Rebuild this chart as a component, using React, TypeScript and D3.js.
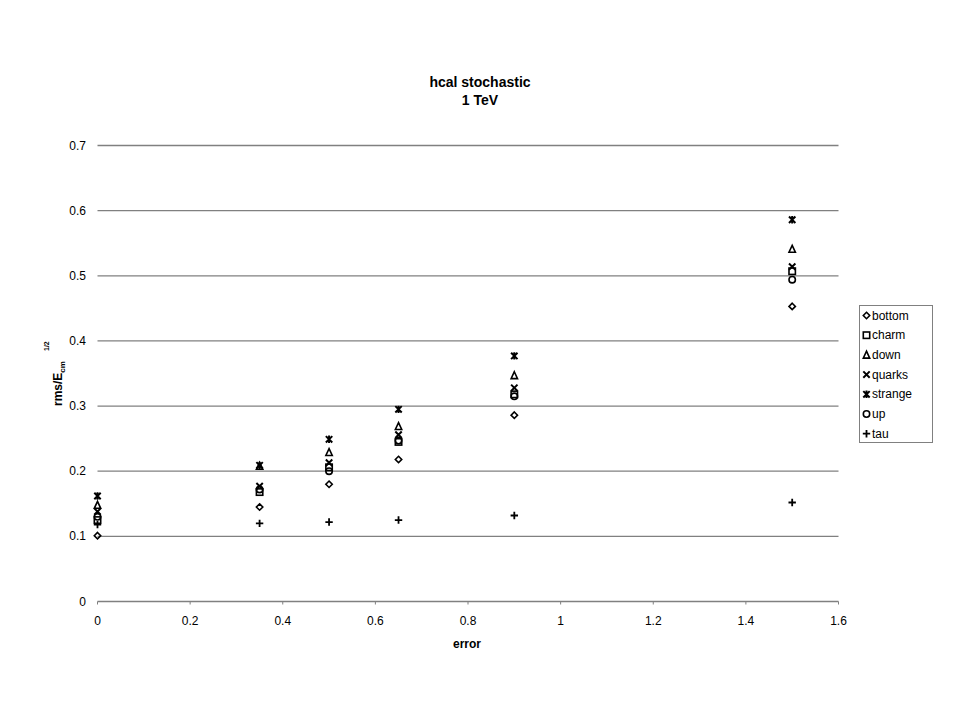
import React from "react";
import * as d3 from "d3";

const xs = [0, 0.35, 0.5, 0.65, 0.9, 1.5];
const seriesNames = ["bottom", "charm", "down", "quarks", "strange", "up", "tau"];
const bottom = [0.101, 0.145, 0.18, 0.218, 0.286, 0.453];
const charm = [0.125, 0.168, 0.206, 0.245, 0.318, 0.507];
const down = [0.148, 0.208, 0.229, 0.269, 0.347, 0.541];
const quarks = [0.138, 0.177, 0.213, 0.256, 0.328, 0.514];
const strange = [0.162, 0.209, 0.249, 0.295, 0.377, 0.586];
const up = [0.13, 0.172, 0.2, 0.247, 0.315, 0.494];
const tau = [0.118, 0.12, 0.122, 0.125, 0.132, 0.152];
const seriesValues = [bottom, charm, down, quarks, strange, up, tau];
const xTicks = [0, 0.2, 0.4, 0.6, 0.8, 1, 1.2, 1.4, 1.6];
const yTicks = [0, 0.1, 0.2, 0.3, 0.4, 0.5, 0.6, 0.7];

function Marker({ kind, x, y }: { kind: string; x: number; y: number }) {
  const s = 3.2;
  const st = { fill: "none", stroke: "#000", strokeWidth: 1.6 };
  switch (kind) {
    case "bottom":
      return <path d={`M${x},${y - s}L${x + s},${y}L${x},${y + s}L${x - s},${y}Z`} {...st} />;
    case "charm":
      return <rect x={x - s} y={y - s} width={2 * s} height={2 * s} {...st} />;
    case "down":
      return <path d={`M${x},${y - s - 0.5}L${x + s},${y + s}L${x - s},${y + s}Z`} {...st} />;
    case "quarks":
      return <path d={`M${x - s},${y - s}L${x + s},${y + s}M${x + s},${y - s}L${x - s},${y + s}`} {...st} strokeWidth={2} />;
    case "strange":
      return (
        <path
          d={`M${x - s},${y - s}L${x + s},${y + s}M${x + s},${y - s}L${x - s},${y + s}M${x},${y - s - 0.5}L${x},${y + s + 0.5}`}
          {...st}
          strokeWidth={2}
        />
      );
    case "up":
      return <circle cx={x} cy={y} r={s} {...st} />;
    case "tau":
      return <path d={`M${x - s - 0.5},${y}L${x + s + 0.5},${y}M${x},${y - s - 0.5}L${x},${y + s + 0.5}`} {...st} strokeWidth={1.8} />;
  }
  return null;
}

export default function App() {
  const W = 960, H = 720;
  const x = d3.scaleLinear().domain([0, 1.6]).range([97.5, 838.5]);
  const y = d3.scaleLinear().domain([0, 0.7]).range([601.5, 145.5]);
  const font = "'Liberation Sans', Arial, sans-serif";
  const lx = 859, ly = 305;
  return (
    <svg width={W} height={H} style={{ position: "absolute", left: 0, top: 0 }} fontFamily={font}>
      <rect width={W} height={H} fill="#fff" />
      <text x={480} y={87} textAnchor="middle" fontSize={14} fontWeight="bold">hcal stochastic</text>
      <text x={480} y={105} textAnchor="middle" fontSize={14} fontWeight="bold">1 TeV</text>
      {yTicks.slice(1).map((t) => (
        <line key={t} x1={x(0)} x2={x(1.6)} y1={y(t)} y2={y(t)} stroke="#808080" strokeWidth={1.3} />
      ))}
      <line x1={x(0)} x2={x(1.6)} y1={y(0)} y2={y(0)} stroke="#808080" strokeWidth={1.3} />
      {xTicks.map((t) => (
        <g key={t}>
          <line x1={x(t)} x2={x(t)} y1={y(0)} y2={y(0) + 3} stroke="#808080" strokeWidth={1} />
          <text x={x(t)} y={y(0) + 23} textAnchor="middle" fontSize={12}>{d3.format("~g")(t)}</text>
        </g>
      ))}
      {yTicks.map((t) => (
        <text key={t} x={86} y={y(t) + 4} textAnchor="end" fontSize={12}>{d3.format("~g")(t)}</text>
      ))}
      <text x={467} y={648} textAnchor="middle" fontSize={12} fontWeight="bold">error</text>
      <g transform="translate(62,406) rotate(-90)">
        <text x={0} y={0} fontSize={12} fontWeight="bold">
          rms/E<tspan fontSize={8} dy={3}>cm</tspan>
        </text>
        <text x={55} y={-13} fontSize={7} fontWeight="bold">1/2</text>
      </g>
      {seriesNames.map((name, i) =>
        seriesValues[i].map((v, j) => <Marker key={name + j} kind={name} x={x(xs[j])} y={y(v)} />)
      )}
      <rect x={lx + 0.5} y={ly + 0.5} width={73} height={137} fill="#fff" stroke="#808080" strokeWidth={1} />
      {seriesNames.map((name, i) => (
        <g key={name}>
          <Marker kind={name} x={lx + 7.5} y={ly + 10.5 + i * 19.7} />
          <text x={lx + 13} y={ly + 14.5 + i * 19.7} fontSize={12}>{name}</text>
        </g>
      ))}
    </svg>
  );
}
